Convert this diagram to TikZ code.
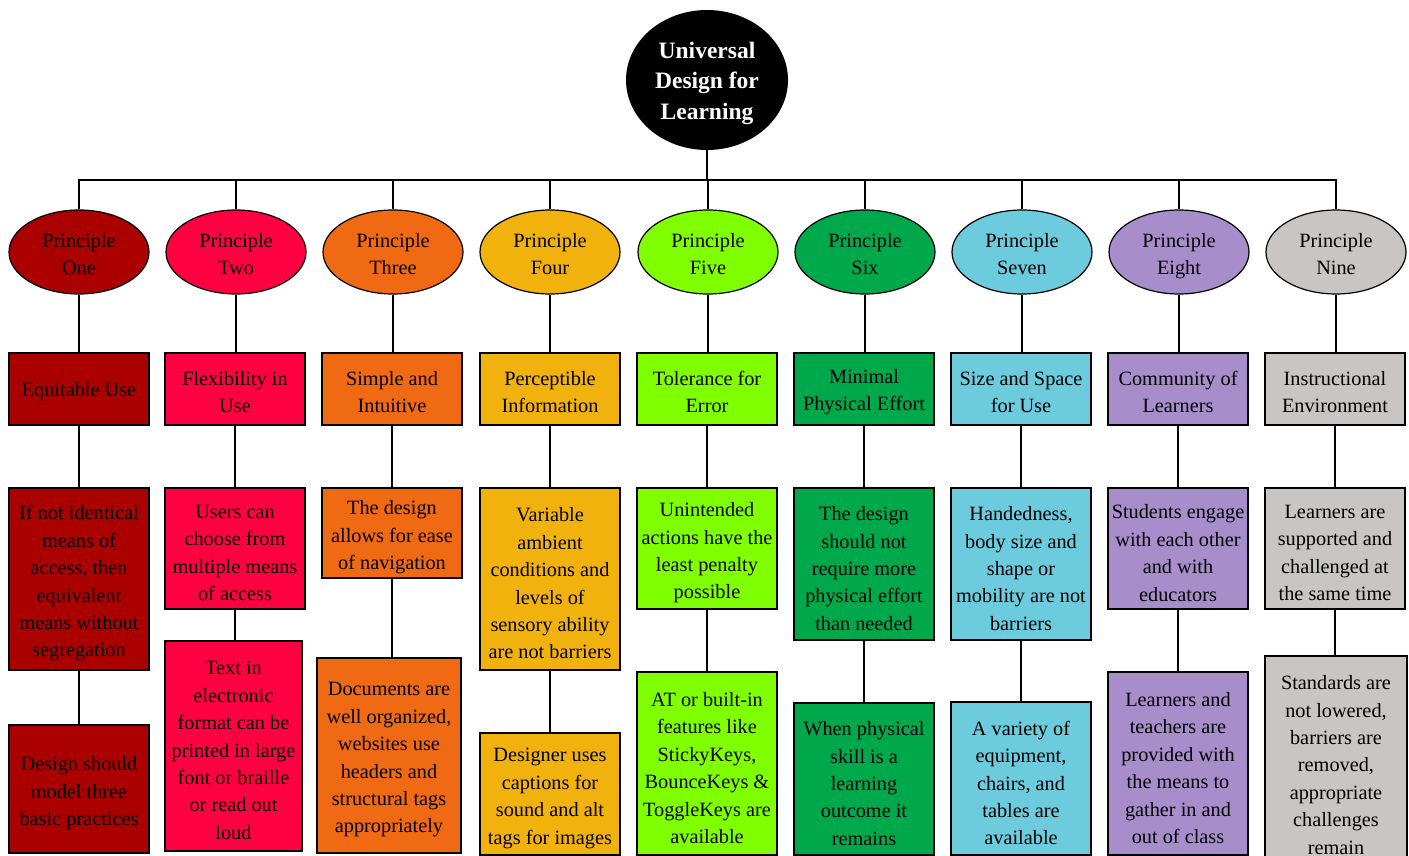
\documentclass[tikz,border=0pt]{standalone}
\usepackage{fontspec}
\setmainfont{Liberation Serif}
\usetikzlibrary{shapes.geometric,shadows}
\definecolor{cA}{RGB}{170,0,0}
\definecolor{cB}{RGB}{255,0,64}
\definecolor{cC}{RGB}{240,106,20}
\definecolor{cD}{RGB}{242,178,14}
\definecolor{cE}{RGB}{128,255,0}
\definecolor{cF}{RGB}{0,168,76}
\definecolor{cG}{RGB}{108,203,220}
\definecolor{cH}{RGB}{167,142,203}
\definecolor{cI}{RGB}{201,197,196}
\tikzset{
  txt/.style={font=\fontsize{20.3}{27.4}\selectfont, align=center, text=black, inner sep=0pt},
  pbox/.style={draw=black, line width=1.6pt, rectangle, minimum width=140pt, inner sep=0pt,
     drop shadow={shadow xshift=1.2pt, shadow yshift=-1.2pt, fill=black!45, opacity=0.6}},
  pell/.style={draw=black, line width=1.2pt, ellipse, minimum width=140pt, minimum height=84pt, inner sep=0pt},
  link/.style={line width=1.8pt, draw=black}
}
% #1 shift down, #2 shape options, #3 name, #4 x, #5 y, #6 text
\newcommand\PNode[6]{%
  \node[#2] (#3) at (#4,#5) {};
  \node[txt] (#3t) at ([yshift=-#1]#3.center) {#6};}
\begin{document}
\begin{tikzpicture}[x=1pt,y=-1pt]
\useasboundingbox (0,0) rectangle (1409,856);
\clip (0,0) rectangle (1409,856);
% root
\node[ellipse, fill=black, minimum width=162pt, minimum height=140pt, inner sep=0pt] (root) at (707,80) {};
\node[text=white, align=center, inner sep=0pt, font=\bfseries\fontsize{23.5}{30.5}\selectfont] (roott)
  at ([yshift=-3pt]root.center) {Universal\\Design for\\Learning};
\coordinate (bus) at (707,180);
% principles
\PNode{2pt}{pell, fill=cA}{p1}{79}{252}{Principle\\One}
\PNode{2pt}{pell, fill=cB}{p2}{236}{252}{Principle\\Two}
\PNode{2pt}{pell, fill=cC}{p3}{393}{252}{Principle\\Three}
\PNode{2pt}{pell, fill=cD}{p4}{550}{252}{Principle\\Four}
\PNode{2pt}{pell, fill=cE}{p5}{708}{252}{Principle\\Five}
\PNode{2pt}{pell, fill=cF}{p6}{865}{252}{Principle\\Six}
\PNode{2pt}{pell, fill=cG}{p7}{1022}{252}{Principle\\Seven}
\PNode{4pt}{pell, fill=cH}{p8}{1179}{252}{Principle\\Eight}
\PNode{2pt}{pell, fill=cI}{p9}{1336}{252}{Principle\\Nine}
% level 1
\PNode{3pt}{pbox, fill=cA, minimum height=72pt}{a1}{79}{389}{Equitable Use}
\PNode{3pt}{pbox, fill=cB, minimum height=72pt}{a2}{235}{389}{Flexibility in\\Use}
\PNode{3pt}{pbox, fill=cC, minimum height=72pt}{a3}{392}{389}{Simple and\\Intuitive}
\PNode{3pt}{pbox, fill=cD, minimum height=72pt}{a4}{550}{389}{Perceptible\\Information}
\PNode{3pt}{pbox, fill=cE, minimum height=72pt}{a5}{707}{389}{Tolerance for\\Error}
\PNode{3pt}{pbox, fill=cF, minimum height=72pt}{a6}{864}{389}{Minimal\\Physical Effort}
\PNode{3pt}{pbox, fill=cG, minimum height=72pt}{a7}{1021}{389}{Size and Space\\for Use}
\PNode{3pt}{pbox, fill=cH, minimum height=72pt}{a8}{1178}{389}{Community of\\Learners}
\PNode{3pt}{pbox, fill=cI, minimum height=72pt}{a9}{1335}{389}{Instructional\\Environment}
% level 2
\PNode{4.5pt}{pbox, fill=cA, minimum height=182pt}{b1}{79}{579}{If not identical\\means of\\access, then\\equivalent\\means without\\segregation}
\PNode{4.5pt}{pbox, fill=cB, minimum height=121pt}{b2}{235}{548.5}{Users can\\choose from\\multiple means\\of access}
\PNode{4.5pt}{pbox, fill=cC, minimum height=90pt}{b3}{392}{533}{The design\\allows for ease\\of navigation}
\PNode{4.5pt}{pbox, fill=cD, minimum height=182pt}{b4}{550}{579}{Variable\\ambient\\conditions and\\levels of\\sensory ability\\are not barriers}
\PNode{4.5pt}{pbox, fill=cE, minimum height=121pt}{b5}{707}{548.5}{Unintended\\actions have the\\least penalty\\possible}
\PNode{4.5pt}{pbox, fill=cF, minimum height=152pt}{b6}{864}{564}{The design\\should not\\require more\\physical effort\\than needed}
\PNode{4.5pt}{pbox, fill=cG, minimum height=152pt}{b7}{1021}{564}{Handedness,\\body size and\\shape or\\mobility are not\\barriers}
\PNode{4.5pt}{pbox, fill=cH, minimum height=121pt}{b8}{1178}{548.5}{Students engage\\with each other\\and with\\educators}
\PNode{4.5pt}{pbox, fill=cI, minimum height=121pt}{b9}{1335}{548.5}{Learners are\\supported and\\challenged at\\the same time}
% level 3
\PNode{4.5pt}{pbox, fill=cA, minimum height=128pt}{c1}{79}{789}{Design should\\model three\\basic practices}
\PNode{4.5pt}{pbox, fill=cB, minimum width=137pt, minimum height=210pt}{c2}{233.5}{746}{Text in\\electronic\\format can be\\printed in large\\font or braille\\or read out\\loud}
\PNode{4.5pt}{pbox, fill=cC, minimum width=144pt, minimum height=195pt}{c3}{389}{755.5}{Documents are\\well organized,\\websites use\\headers and\\structural tags\\appropriately}
\PNode{4.5pt}{pbox, fill=cD, minimum height=122pt}{c4}{550}{794}{Designer uses\\captions for\\sound and alt\\tags for images}
\PNode{4.5pt}{pbox, fill=cE, minimum height=183pt}{c5}{707}{763.5}{AT or built-in\\features like\\StickyKeys,\\BounceKeys \&\\ToggleKeys are\\available}
\PNode{4.5pt}{pbox, fill=cF, minimum height=152pt}{c6}{864}{779}{When physical\\skill is a\\learning\\outcome it\\remains}
\PNode{4.5pt}{pbox, fill=cG, minimum height=153pt}{c7}{1021}{778.5}{A variety of\\equipment,\\chairs, and\\tables are\\available}
\PNode{4.5pt}{pbox, fill=cH, minimum height=183pt}{c8}{1178}{763.5}{Learners and\\teachers are\\provided with\\the means to\\gather in and\\out of class}
\PNode{1pt}{pbox, fill=cI, minimum width=142pt, minimum height=216pt}{c9}{1336}{764}{Standards are\\not lowered,\\barriers are\\removed,\\appropriate\\challenges\\remain}
% connectors
\draw[link] (root.south) -- (bus);
\foreach \i in {1,...,9}{
  \draw[link] (bus) -| (p\i.north);
  \draw[link] (p\i.south) -- (p\i.south |- a\i.north);
  \draw[link] (a\i.south) -- (a\i.south |- b\i.north);
  \draw[link] (b\i.south) -- (b\i.south |- c\i.north);
}
\end{tikzpicture}
\end{document}
